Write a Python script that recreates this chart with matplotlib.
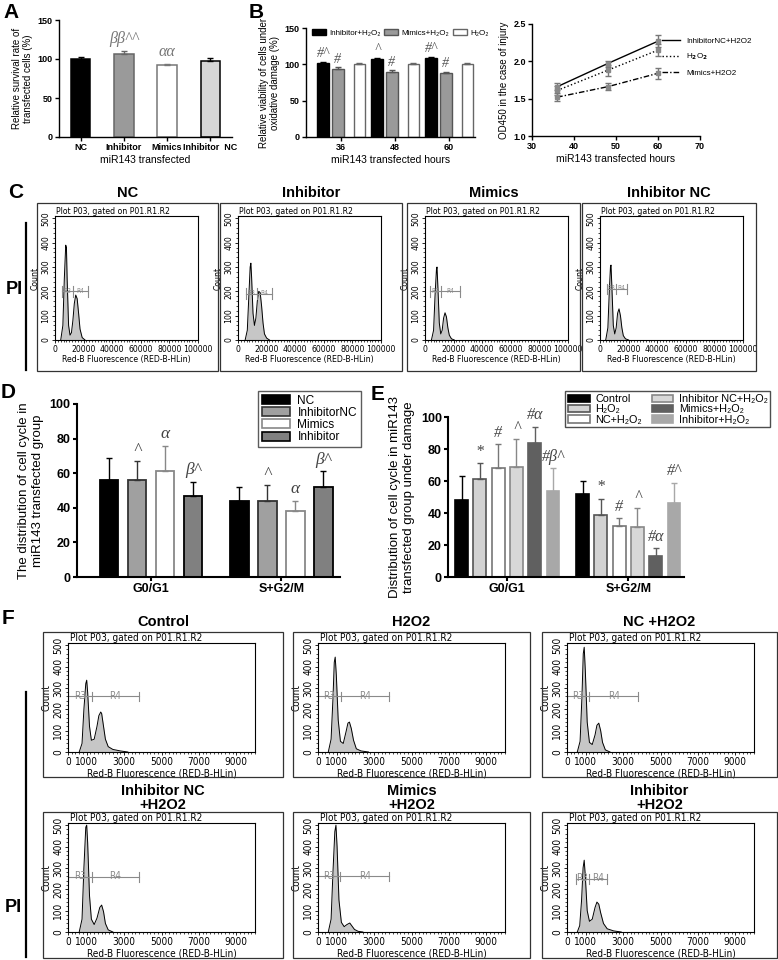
import matplotlib
matplotlib.use('Agg')
import matplotlib.pyplot as plt
from matplotlib.patches import Rectangle, Patch
from matplotlib.lines import Line2D
from matplotlib.ticker import MultipleLocator
import numpy as np

W, H = 778, 960
plt.rcParams['font.family'] = ['Liberation Sans', 'DejaVu Sans']
plt.rcParams['font.weight'] = 'bold'

# ---- data -------------------------------------------------------------
a_groups = ['NC', 'Inhibitor', 'Mimics', 'Inhibitor  NC']
a_vals = [100, 107, 92, 98]
a_err = [3, 3, 2, 3]
a_marks = ['', 'ββ^^', 'αα', '']

b_hours = ['36', '48', '60']
b_series = ['Inhibitor+H₂O₂', 'Mimics+H₂O₂', 'H₂O₂']
b_inh = [102, 107, 109]
b_mim = [94, 90, 88]
b_h2o2 = [100, 100, 100]
b_inh_err = [1.5, 1.5, 1.5]
b_mim_err = [2, 2, 1.5]
b_h2o2_err = [1.5, 1.5, 1.5]
b_inh_marks = ['#^', '^', '#^']
b_mim_marks = ['#', '#', '#']

od_hours = [36, 48, 60]
od_inhnc = [1.66, 1.97, 2.27]
od_inhnc_err = [0.05, 0.04, 0.08]
od_h2o2 = [1.61, 1.88, 2.15]
od_h2o2_err = [0.06, 0.07, 0.08]
od_mim = [1.52, 1.66, 1.84]
od_mim_err = [0.05, 0.05, 0.07]
od_labels = ['InhibitorNC+H2O2', 'H$_2$O$_2$', 'Mimics+H2O2']

phases = ['G0/G1', 'S+G2/M']
d_series = ['NC', 'InhibitorNC', 'Mimics', 'Inhibitor']
d_vals = [[56, 44], [56, 44], [61, 38], [47, 52]]
d_err = [[13, 8], [11, 9], [15, 6], [8, 9]]
d_marks = [['', ''], ['^', '^'], ['α', 'α'], ['β^', 'β^']]

e_series = ['Control', 'H₂O₂', 'NC+H₂O₂', 'Inhibitor NC+H₂O₂', 'Mimics+H₂O₂', 'Inhibitor+H₂O₂']
e_vals = [[48, 52], [61, 39], [68, 32], [69, 31], [84, 13], [54, 46]]
e_err = [[15, 8], [10, 10], [15, 5], [17, 12], [10, 5], [14, 13]]
e_marks = [['', ''], ['*', '*'], ['#', '#'], ['^', '^'], ['#α', '#α'], ['#β^', '#^']]

# flow histograms (panel C, x in fluorescence units, y = count)
c_titles = ['NC', 'Inhibitor', 'Mimics', 'Inhibitor NC']
c_x = [
    [4000, 5500, 6500, 7500, 8000, 8500, 9500, 10500, 11500, 12500, 13500, 14500, 15500, 16500, 17500, 19000, 21000],
    [5000, 6500, 7500, 8500, 9000, 9500, 10500, 11500, 12500, 13500, 14500, 15500, 16500, 17500, 18500, 20000, 22000],
    [4500, 6000, 7000, 8000, 8400, 9000, 10000, 11000, 12000, 13000, 14000, 15000, 16000, 17000, 18500, 20500],
    [4000, 5500, 6500, 7300, 7700, 8300, 9300, 10300, 11300, 12300, 13300, 14300, 15300, 16300, 17800, 20000],
]
c_y = [
    [0, 60, 250, 390, 380, 250, 60, 20, 30, 80, 150, 185, 170, 110, 45, 10, 0],
    [0, 40, 170, 300, 316, 260, 110, 60, 90, 160, 200, 195, 140, 70, 25, 8, 0],
    [0, 40, 180, 290, 300, 220, 70, 25, 40, 90, 112, 95, 50, 20, 5, 0],
    [0, 50, 200, 300, 308, 220, 60, 25, 50, 110, 128, 100, 50, 18, 5, 0],
]
c_gates = [(4900, 12600, 23000, 200), (5600, 13300, 23800, 190),
           (3500, 11200, 24500, 200), (4900, 11200, 18900, 210)]

# panel F
f_titles = ['Control', 'H2O2', 'NC +H2O2', 'Inhibitor NC\n+H2O2', 'Mimics\n+H2O2', 'Inhibitor\n+H2O2']
f_x = [
    [600, 750, 850, 950, 1000, 1050, 1150, 1250, 1400, 1550, 1650, 1750, 1800, 1900, 2000, 2150, 2400, 2800, 3200],
    [550, 700, 800, 870, 920, 980, 1080, 1200, 1350, 1500, 1600, 1680, 1780, 1900, 2050, 2300, 2700],
    [550, 700, 800, 870, 920, 980, 1080, 1200, 1350, 1500, 1600, 1700, 1800, 1900, 2050, 2300],
    [600, 750, 850, 950, 1000, 1050, 1150, 1250, 1400, 1550, 1700, 1800, 1900, 2000, 2150, 2400],
    [550, 700, 800, 900, 960, 1020, 1120, 1250, 1400, 1550, 1700, 1800, 1950, 2150, 2400],
    [550, 680, 780, 860, 920, 980, 1080, 1200, 1350, 1500, 1600, 1700, 1800, 1950, 2150, 2500, 2900],
]
f_y = [
    [0, 40, 200, 320, 336, 280, 120, 55, 60, 120, 170, 187, 180, 120, 60, 25, 12, 5, 0],
    [0, 60, 250, 420, 444, 360, 150, 50, 40, 95, 135, 140, 110, 55, 15, 5, 0],
    [0, 50, 260, 460, 490, 380, 140, 45, 35, 80, 125, 135, 100, 45, 10, 0],
    [0, 60, 300, 490, 500, 420, 170, 60, 35, 65, 115, 126, 95, 40, 10, 0],
    [0, 60, 280, 470, 500, 400, 150, 45, 25, 35, 42, 30, 12, 3, 0],
    [0, 30, 150, 300, 336, 260, 100, 50, 60, 115, 140, 130, 90, 40, 15, 5, 0],
]
f_gates = [(0, 1280, 3800, 260), (0, 1230, 3800, 260), (0, 1200, 3800, 260),
           (0, 1280, 3800, 257), (0, 1200, 3800, 260), (480, 1180, 2140, 248)]

fig = plt.figure(figsize=(W / 100, H / 100), dpi=100)


def px_axes(x0, y0, x1, y1):
    return fig.add_axes([x0 / W, 1 - y1 / H, (x1 - x0) / W, (y1 - y0) / H])


def ftext(x, y, s, **kw):
    fig.text(x / W, 1 - y / H, s, **kw)


def prism(ax, fs, lw=1.0):
    ax.spines[['top', 'right']].set_visible(False)
    ax.spines[['left', 'bottom']].set_linewidth(lw)
    ax.tick_params(direction='out', length=3, width=lw, labelsize=fs, pad=1.5)


def bar_err(ax, x, v, e, ec):
    ax.errorbar(x, v, yerr=[[0], [e]], fmt='none', ecolor=ec, elinewidth=1, capsize=2.5, capthick=1)


serif = dict(family=['Liberation Serif', 'DejaVu Serif'], style='italic', weight='normal')

# ---- A ----------------------------------------------------------------
a_fill = ['black', '#9a9a9a', 'white', '#d6d6d6']
a_edge = ['black', '#666666', '#777777', 'black']
ax = px_axes(59, 20, 232, 137)
for i in range(4):
    ax.bar(i, a_vals[i], 0.45, color=a_fill[i], edgecolor=a_edge[i], linewidth=1.1)
    bar_err(ax, i, a_vals[i], a_err[i], a_edge[i])
    if a_marks[i]:
        ax.text(i, a_vals[i] + a_err[i] + 5, a_marks[i], ha='center', va='bottom', fontsize=11.5, color='#777777', **serif)
ax.set_xlim(-0.5, 3.5)
ax.set_ylim(0, 150)
ax.set_yticks([0, 50, 100, 150])
ax.set_xticks(range(4))
ax.set_xticklabels(a_groups)
prism(ax, 6.5)
ax.set_xlabel('miR143 transfected', fontsize=7.5, labelpad=2)
ax.set_ylabel('Relative survival rate of\ntransfected cells (%)', fontsize=7, labelpad=3)

# ---- B bars -----------------------------------------------------------
ax = px_axes(306, 28, 475, 137)
b_fill = ['black', '#9a9a9a', 'white']
b_edge = ['black', '#555555', '#666666']
offs = [-0.33, -0.06, 0.34]
series = [(b_inh, b_inh_err), (b_mim, b_mim_err), (b_h2o2, b_h2o2_err)]
for k, (vals, errs) in enumerate(series):
    for g in range(3):
        ax.bar(g + offs[k], vals[g], 0.22, color=b_fill[k], edgecolor=b_edge[k], linewidth=1)
        bar_err(ax, g + offs[k], vals[g], errs[g], b_edge[k])
for g in range(3):
    ax.text(g + offs[0], b_inh[g] + 4, b_inh_marks[g], ha='center', va='bottom', fontsize=10, color='#555555', **serif)
    ax.text(g + offs[1], b_mim[g] + 4, b_mim_marks[g], ha='center', va='bottom', fontsize=10, color='#555555', **serif)
ax.set_xlim(-0.65, 2.48)
ax.set_ylim(0, 150)
ax.set_yticks([0, 50, 100, 150])
ax.set_xticks(range(3))
ax.set_xticklabels(b_hours)
prism(ax, 6.5)
ax.set_xlabel('miR143 transfected hours', fontsize=7.5, labelpad=2)
ax.set_ylabel('Relative viability of cells under\noxidative damage (%)', fontsize=7, labelpad=3)
handles = [Patch(facecolor=b_fill[k], edgecolor=b_edge[k], lw=1) for k in range(3)]
ax.legend(handles, b_series, ncol=3, frameon=False, loc='upper left',
          bbox_to_anchor=(308 / W, 1 - 25 / H), bbox_transform=fig.transFigure,
          prop=dict(size=5.8, weight='normal'), handlelength=1.7, handleheight=0.8,
          columnspacing=0.5, handletextpad=0.4, borderpad=0)

# ---- B line -----------------------------------------------------------
ax = px_axes(532, 24, 700, 136)
styles = ['-', ':', (0, (4, 1.5, 1, 1.5))]
lines = [(od_inhnc, od_inhnc_err), (od_h2o2, od_h2o2_err), (od_mim, od_mim_err)]
hs = []
for k, (vals, errs) in enumerate(lines):
    h, = ax.plot(od_hours, vals, linestyle=styles[k], color='black', lw=1)
    hs.append(h)
    ax.errorbar(od_hours, vals, yerr=errs, fmt='s', ms=2.5, color='#888888', ecolor='#777777',
                elinewidth=1, capsize=2, capthick=1)
ax.set_xlim(30, 70)
ax.set_ylim(1.0, 2.5)
ax.set_xticks([30, 40, 50, 60, 70])
ax.set_yticks([1.0, 1.5, 2.0, 2.5])
ax.set_yticklabels(['1.0', '1.5', '2.0', '2.5'])
prism(ax, 6.5)
ax.set_xlabel('miR143 transfected hours', fontsize=7.5, labelpad=2)
ax.set_ylabel('OD450 in the case of injury', fontsize=7, labelpad=3)
ax.legend(hs, od_labels, frameon=False, loc='upper left',
          bbox_to_anchor=(658 / W, 1 - 33 / H), bbox_transform=fig.transFigure,
          prop=dict(size=5.8, weight='normal'), handlelength=2.2, labelspacing=0.9, borderpad=0)


# ---- flow histogram helper -------------------------------------------
def flow(box, inner, xs, ys, xmax, xticks, xlabels, gate, fs, gfs):
    bx0, by0, bx1, by1 = box
    fig.add_artist(Rectangle((bx0 / W, 1 - by1 / H), (bx1 - bx0) / W, (by1 - by0) / H,
                             transform=fig.transFigure, fill=False, lw=0.9, ec='#333333'))
    l, t, r, b = inner
    ax = px_axes(bx0 + l, by0 + t, bx0 + r, by0 + b)
    ax.fill_between(xs, ys, color='#c6c6c6', lw=0)
    ax.plot(xs, ys, color='black', lw=0.7)
    ax.set_xlim(0, xmax)
    ax.set_ylim(0, 510)
    ax.set_yticks(range(0, 501, 100))
    ax.set_yticklabels([str(v) for v in range(0, 501, 100)], rotation=90, va='center')
    ax.yaxis.set_minor_locator(MultipleLocator(20))
    ax.set_xticks(xticks)
    ax.set_xticklabels(xlabels)
    ax.xaxis.set_minor_locator(MultipleLocator(xmax / 50))
    ax.tick_params(which='major', direction='out', length=2.5, width=0.6, labelsize=fs, pad=1)
    ax.tick_params(which='minor', direction='out', length=1.3, width=0.5)
    for lab in ax.get_xticklabels() + ax.get_yticklabels():
        lab.set_family('DejaVu Sans')
        lab.set_stretch('condensed')
        lab.set_weight('normal')
    for s in ax.spines.values():
        s.set_linewidth(0.8)
    fnt = dict(family='DejaVu Sans', stretch='condensed', weight='normal', fontsize=fs)
    ax.set_ylabel('Count', labelpad=1, **fnt)
    ax.set_xlabel('Red-B Fluorescence (RED-B-HLin)', labelpad=1, **fnt)
    ax.text(0.01, 1.0, 'Plot P03, gated on P01.R1.R2', transform=ax.transAxes, va='bottom', **fnt)
    g3a, g3b, g4b, lev = gate
    gc = '#8a8a8a'
    ax.plot([g3a, g3b], [lev, lev], color=gc, lw=0.8)
    ax.plot([g3b, g4b], [lev, lev], color=gc, lw=0.8)
    for gx in (g3a, g3b, g4b):
        ax.plot([gx, gx], [lev - 22, lev + 22], color=gc, lw=0.8)
    gfnt = dict(family='DejaVu Sans', stretch='condensed', weight='normal', fontsize=gfs, color=gc)
    ax.text((g3a + g3b) / 2, lev + 3, 'R3', ha='center', va='center', **gfnt)
    ax.text((g3b + g4b) / 2, lev + 3, 'R4', ha='center', va='center', **gfnt)
    return ax


# ---- C ----------------------------------------------------------------
c_boxes = [(37, 203, 218, 371), (220, 203, 402, 371), (407, 203, 580, 371), (582, 203, 756, 371)]
c_ticks = [0, 20000, 40000, 60000, 80000, 100000]
for i in range(4):
    box = c_boxes[i]
    flow(box, (18, 13, 161, 137), c_x[i], c_y[i], 100000, c_ticks, [str(t) for t in c_ticks],
         c_gates[i], 6.2, 4.8)
    ftext((box[0] + box[2]) / 2, 193, c_titles[i], ha='center', va='center', fontsize=10.5)
fig.add_artist(Line2D([26 / W, 26 / W], [1 - 223 / H, 1 - 370 / H], color='black', lw=1.6))
ftext(14, 290, 'PI', ha='center', va='center', fontsize=13)

# ---- D ----------------------------------------------------------------
d_fill = ['black', '#a0a0a0', 'white', '#808080']
d_edge = ['black', '#333333', '#888888', 'black']
ax = px_axes(77, 404, 340, 577)
for k in range(4):
    for g in range(2):
        x = g + (k - 1.5) * 0.215
        ax.bar(x, d_vals[k][g], 0.14, color=d_fill[k], edgecolor=d_edge[k], linewidth=1.3)
        bar_err(ax, x, d_vals[k][g], d_err[k][g], d_edge[k])
        if d_marks[k][g]:
            ax.text(x, d_vals[k][g] + d_err[k][g] + 2, d_marks[k][g], ha='center', va='bottom',
                    fontsize=12.5, color='#444444', **serif)
ax.set_xlim(-0.57, 1.45)
ax.set_ylim(0, 100)
ax.set_yticks(range(0, 101, 20))
ax.set_xticks([0, 1])
ax.set_xticklabels(phases)
prism(ax, 9, 1.5)
ax.set_ylabel('The distribution of cell cycle in\nmiR143 transfected group', fontsize=9.5, labelpad=4)
handles = [Patch(facecolor=d_fill[k], edgecolor=d_edge[k], lw=1.2) for k in range(4)]
ax.legend(handles, d_series, loc='upper left', bbox_to_anchor=(252 / W, 1 - 385 / H),
          bbox_transform=fig.transFigure, fancybox=False, edgecolor='#333333',
          prop=dict(size=8.6, weight='normal'), handlelength=2.4, handleheight=0.8,
          labelspacing=0.02, borderpad=0.3, handletextpad=0.6)

# ---- E ----------------------------------------------------------------
e_fill = ['black', '#d2d2d2', 'white', '#d8d8d8', '#606060', '#a8a8a8']
e_edge = ['black', '#555555', '#777777', '#888888', '#606060', '#a8a8a8']
ax = px_axes(448, 417, 684, 577)
for k in range(6):
    for g in range(2):
        x = g + (k - 2.5) * 0.151
        ax.bar(x, e_vals[k][g], 0.107, color=e_fill[k], edgecolor=e_edge[k], linewidth=1.2)
        bar_err(ax, x, e_vals[k][g], e_err[k][g], e_edge[k] if k != 0 else 'black')
        if e_marks[k][g]:
            ax.text(x, e_vals[k][g] + e_err[k][g] + 2, e_marks[k][g], ha='center', va='bottom',
                    fontsize=11.5, color='#444444', **serif)
ax.set_xlim(-0.49, 1.46)
ax.set_ylim(0, 100)
ax.set_yticks(range(0, 101, 20))
ax.set_xticks([0, 1])
ax.set_xticklabels(phases)
prism(ax, 9, 1.5)
ax.set_ylabel('Distribution of cell cycle in miR143\ntransfected group under damage', fontsize=9.5, labelpad=4)
handles = [Patch(facecolor=e_fill[k], edgecolor=e_edge[k], lw=1.2) for k in range(6)]
ax.legend(handles, e_series, ncol=2, loc='upper left', bbox_to_anchor=(560 / W, 1 - 386 / H),
          bbox_transform=fig.transFigure, fancybox=False, edgecolor='#222222',
          prop=dict(size=7.8, weight='normal'), handlelength=2.0, handleheight=0.7,
          labelspacing=0.02, borderpad=0.25, handletextpad=0.5, columnspacing=0.9)

# ---- F ----------------------------------------------------------------
f_boxes = [(43, 632, 283, 777), (293, 632, 530, 777), (542, 632, 777, 777),
           (43, 812, 283, 958), (293, 812, 530, 958), (542, 812, 777, 958)]
f_ticks = [0, 1000, 3000, 5000, 7000, 9000]
for i in range(6):
    box = f_boxes[i]
    flow(box, (25, 11, 212, 120), f_x[i], f_y[i], 10000, f_ticks, [str(t) for t in f_ticks],
         f_gates[i], 7.2, 7.2)
    ty = 622 if i < 3 else 798
    ftext((box[0] + box[2]) / 2, ty, f_titles[i], ha='center', va='center', fontsize=10.5, linespacing=0.95)
fig.add_artist(Line2D([26 / W, 26 / W], [1 - 692 / H, 1 - 957 / H], color='black', lw=1.6))
ftext(13, 907, 'PI', ha='center', va='center', fontsize=13)

# ---- panel letters ----------------------------------------------------
for lab, x, y in [('A', 11, 12), ('B', 256, 12), ('C', 16, 193), ('D', 8, 393), ('E', 378, 394), ('F', 8, 618)]:
    ftext(x, y, lab, ha='center', va='center', fontsize=15)

fig.savefig('out.png', dpi=100)
